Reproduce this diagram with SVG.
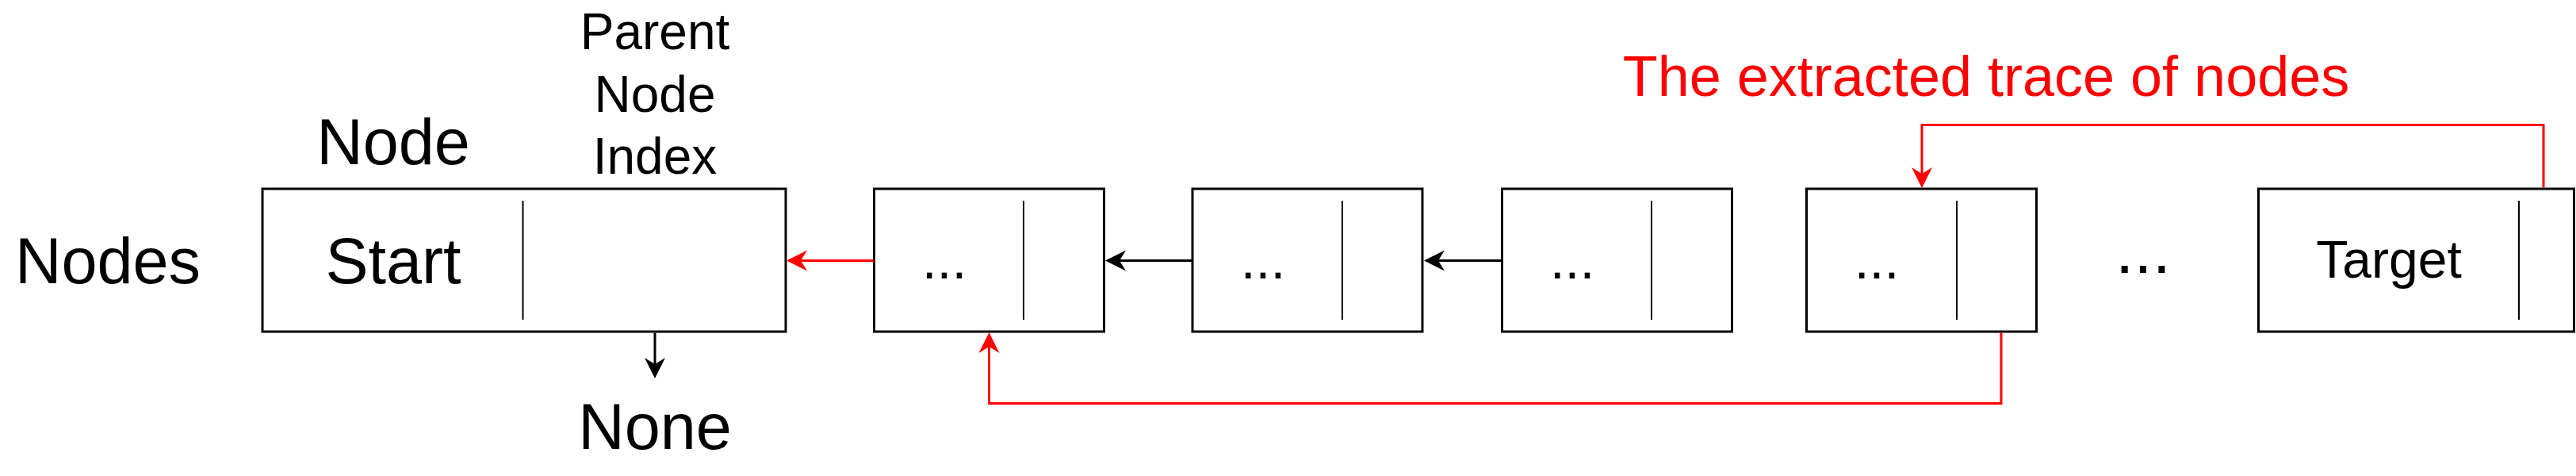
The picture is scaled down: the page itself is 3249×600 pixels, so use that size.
<svg xmlns="http://www.w3.org/2000/svg" width="3249" height="600" viewBox="0 0 3249 600">
<style>
text{font-family:"Liberation Sans",Arial,sans-serif;fill:#000;text-anchor:middle}
.box{fill:#fff;stroke:#000;stroke-width:3}
.div{stroke:#000;stroke-width:2}
.blk{fill:none;stroke:#000;stroke-width:3}
.red{fill:none;stroke:#f00;stroke-width:3}
.big{font-size:81px}
.mid{font-size:64px}
.dots{font-size:68px}
</style>
<defs>
<marker id="ab" viewBox="-24 -14 30 28" refX="0" refY="0" markerWidth="30" markerHeight="28" markerUnits="userSpaceOnUse" orient="auto">
<path d="M4,0 L-22,-13 L-14,0 L-22,13 Z" fill="#000"/>
</marker>
<marker id="ar" viewBox="-24 -14 30 28" refX="0" refY="0" markerWidth="30" markerHeight="28" markerUnits="userSpaceOnUse" orient="auto">
<path d="M4,0 L-22,-13 L-14,0 L-22,13 Z" fill="#f00"/>
</marker>
</defs>
<g id="labels">
<text class="big" x="136" y="357">Nodes</text>
<text class="big" x="496" y="207">Node</text>
<text class="mid" x="826" y="62">Parent</text>
<text class="mid" x="826" y="141">Node</text>
<text class="mid" x="826" y="219">Index</text>
<text class="big" x="826" y="566">None</text>
<text x="2505" y="121" style="font-size:72px;fill:#f00">The extracted trace of nodes</text>
<text x="2703" y="344" style="font-size:84px">...</text>
</g>
<g id="node-start">
<rect class="box" x="331" y="238" width="660" height="180"/>
<line class="div" x1="659.5" y1="253" x2="659.5" y2="403"/>
<text class="big" x="496" y="357">Start</text>
</g>
<g id="node-2">
<rect class="box" x="1102.5" y="238" width="290" height="180"/>
<line class="div" x1="1291" y1="253" x2="1291" y2="403"/>
<text class="dots" x="1191" y="351">...</text>
</g>
<g id="node-3">
<rect class="box" x="1504" y="238" width="290" height="180"/>
<line class="div" x1="1693" y1="253" x2="1693" y2="403"/>
<text class="dots" x="1593" y="351">...</text>
</g>
<g id="node-4">
<rect class="box" x="1894.5" y="238" width="290" height="180"/>
<line class="div" x1="2083" y1="253" x2="2083" y2="403"/>
<text class="dots" x="1983" y="351">...</text>
</g>
<g id="node-5">
<rect class="box" x="2278.5" y="238" width="290" height="180"/>
<line class="div" x1="2468" y1="253" x2="2468" y2="403"/>
<text class="dots" x="2367" y="351">...</text>
</g>
<g id="node-target">
<rect class="box" x="2848.5" y="238" width="398" height="180"/>
<line class="div" x1="3177" y1="253" x2="3177" y2="403"/>
<text x="3013" y="350" style="font-size:66px">Target</text>
</g>
<g id="connectors">
<path class="red" d="M1102,328.5 H996" marker-end="url(#ar)"/>
<path class="blk" d="M1504,328.5 H1398" marker-end="url(#ab)"/>
<path class="blk" d="M1894,328.5 H1800" marker-end="url(#ab)"/>
<path class="blk" d="M826,419.5 V473" marker-end="url(#ab)"/>
<path class="red" d="M2524,419.5 V508.5 H1247.5 V423" marker-end="url(#ar)"/>
<path class="red" d="M3208,236.5 V157.5 H2424 V233" marker-end="url(#ar)"/>
</g>
</svg>
